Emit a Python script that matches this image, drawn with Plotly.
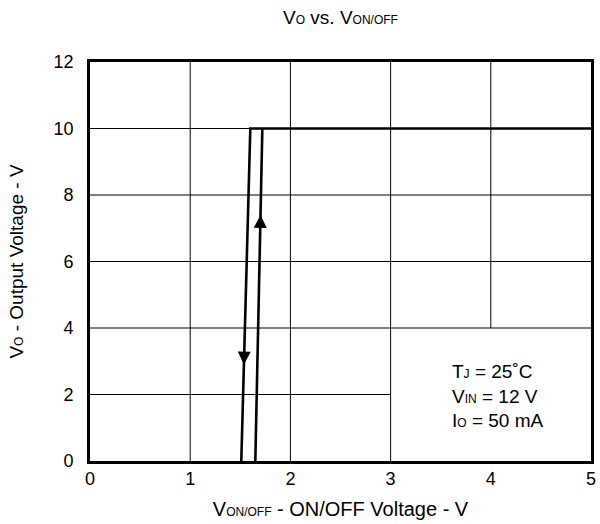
import plotly.graph_objects as go

# ---- data ----
fall_x = [1.51, 1.60, 5.0]      # V_ON/OFF (falling branch then flat 10 V)
fall_y = [0, 10, 10]
rise_x = [1.65, 1.72]           # rising branch
rise_y = [0, 10]
x_ticks = [0, 1, 2, 3, 4, 5]
y_ticks = [0, 2, 4, 6, 8, 10, 12]
down_arrow_y = 2.9
up_arrow_y = 7.4
cond_lines = ["T<span style='font-size:12px'>J</span> = 25˚C",
              "V<span style='font-size:12px'>IN</span> = 12 V",
              "I<span style='font-size:12px'>O</span> = 50 mA"]
# grid segments (value, from, to); lower-right region left open for the conditions
grid_vertical = [(1, 0, 12), (2, 0, 12), (3, 0, 12), (4, 4, 12)]
grid_horizontal = [(2, 0, 3), (4, 0, 5), (6, 0, 5), (8, 0, 5), (10, 0, 5)]

FONT = "Liberation Sans, Arial, sans-serif"
SUB = "<span style='font-size:12px'>{}</span>"

fig = go.Figure()
fig.add_trace(go.Scatter(x=fall_x, y=fall_y, mode="lines",
                         line=dict(color="black", width=2.6), hoverinfo="skip"))
fig.add_trace(go.Scatter(x=rise_x, y=rise_y, mode="lines",
                         line=dict(color="black", width=2.6), hoverinfo="skip"))

for v, a, b in grid_vertical:
    fig.add_shape(type="line", x0=v, x1=v, y0=a, y1=b, xref="x", yref="y",
                  line=dict(color="black", width=1), layer="below")
for v, a, b in grid_horizontal:
    fig.add_shape(type="line", x0=a, x1=b, y0=v, y1=v, xref="x", yref="y",
                  line=dict(color="black", width=1), layer="below")

def on_line(xs, ys, yv):
    x0, x1 = xs[0], xs[1]
    y0, y1 = ys[0], ys[1]
    return x0 + (x1 - x0) * (yv - y0) / (y1 - y0)

# arrows
for (xs, ys, yt, d) in [(fall_x, fall_y, down_arrow_y, 0.45), (rise_x, rise_y, up_arrow_y, -0.45)]:
    fig.add_annotation(x=on_line(xs, ys, yt), y=yt, ax=on_line(xs, ys, yt + d), ay=yt + d,
                       xref="x", yref="y", axref="x", ayref="y", text="",
                       showarrow=True, arrowhead=2, arrowsize=1.3, arrowwidth=2,
                       arrowcolor="black")

fig.add_annotation(x=3.59, y=1.96, xref="x", yref="y", showarrow=False,
                   xanchor="left", yanchor="middle",
                   text="<br>".join(cond_lines), align="left",
                   font=dict(family=FONT, size=19, color="black"))

fig.update_layout(
    width=600, height=524,
    margin=dict(l=90, r=4, t=62, b=63),
    paper_bgcolor="white", plot_bgcolor="white",
    showlegend=False,
    font=dict(family=FONT, color="black"),
    title=dict(text="V" + SUB.format("O") + " vs. V" + SUB.format("ON/OFF"),
               xref="paper", x=0.5, xanchor="center", y=1 - 17 / 524, yanchor="middle",
               font=dict(family=FONT, size=19, color="black")),
)
fig.update_xaxes(range=[0, 5], tickvals=x_ticks, ticktext=[str(v) for v in x_ticks],
                 showgrid=False,
                 showline=True, linecolor="black", linewidth=2.6, mirror=True,
                 ticks="", ticklabelstandoff=0, zeroline=False,
                 tickfont=dict(family=FONT, size=18, color="black"),
                 title=dict(text="V" + SUB.format("ON/OFF") + " - ON/OFF Voltage - V",
                            font=dict(family=FONT, size=20, color="black"), standoff=14))
fig.update_yaxes(range=[0, 12], tickvals=y_ticks, ticktext=[str(v) for v in y_ticks],
                 showgrid=False,
                 showline=True, linecolor="black", linewidth=2.6, mirror=True,
                 ticks="", ticklabelstandoff=10, zeroline=False,
                 tickfont=dict(family=FONT, size=18, color="black"),
                 title=dict(text="V" + SUB.format("O") + " - Output Voltage - V",
                            font=dict(family=FONT, size=19, color="black"), standoff=25))

fig.write_html("out.html", config={"displayModeBar": False},
               post_script="document.body.style.margin='0';")
